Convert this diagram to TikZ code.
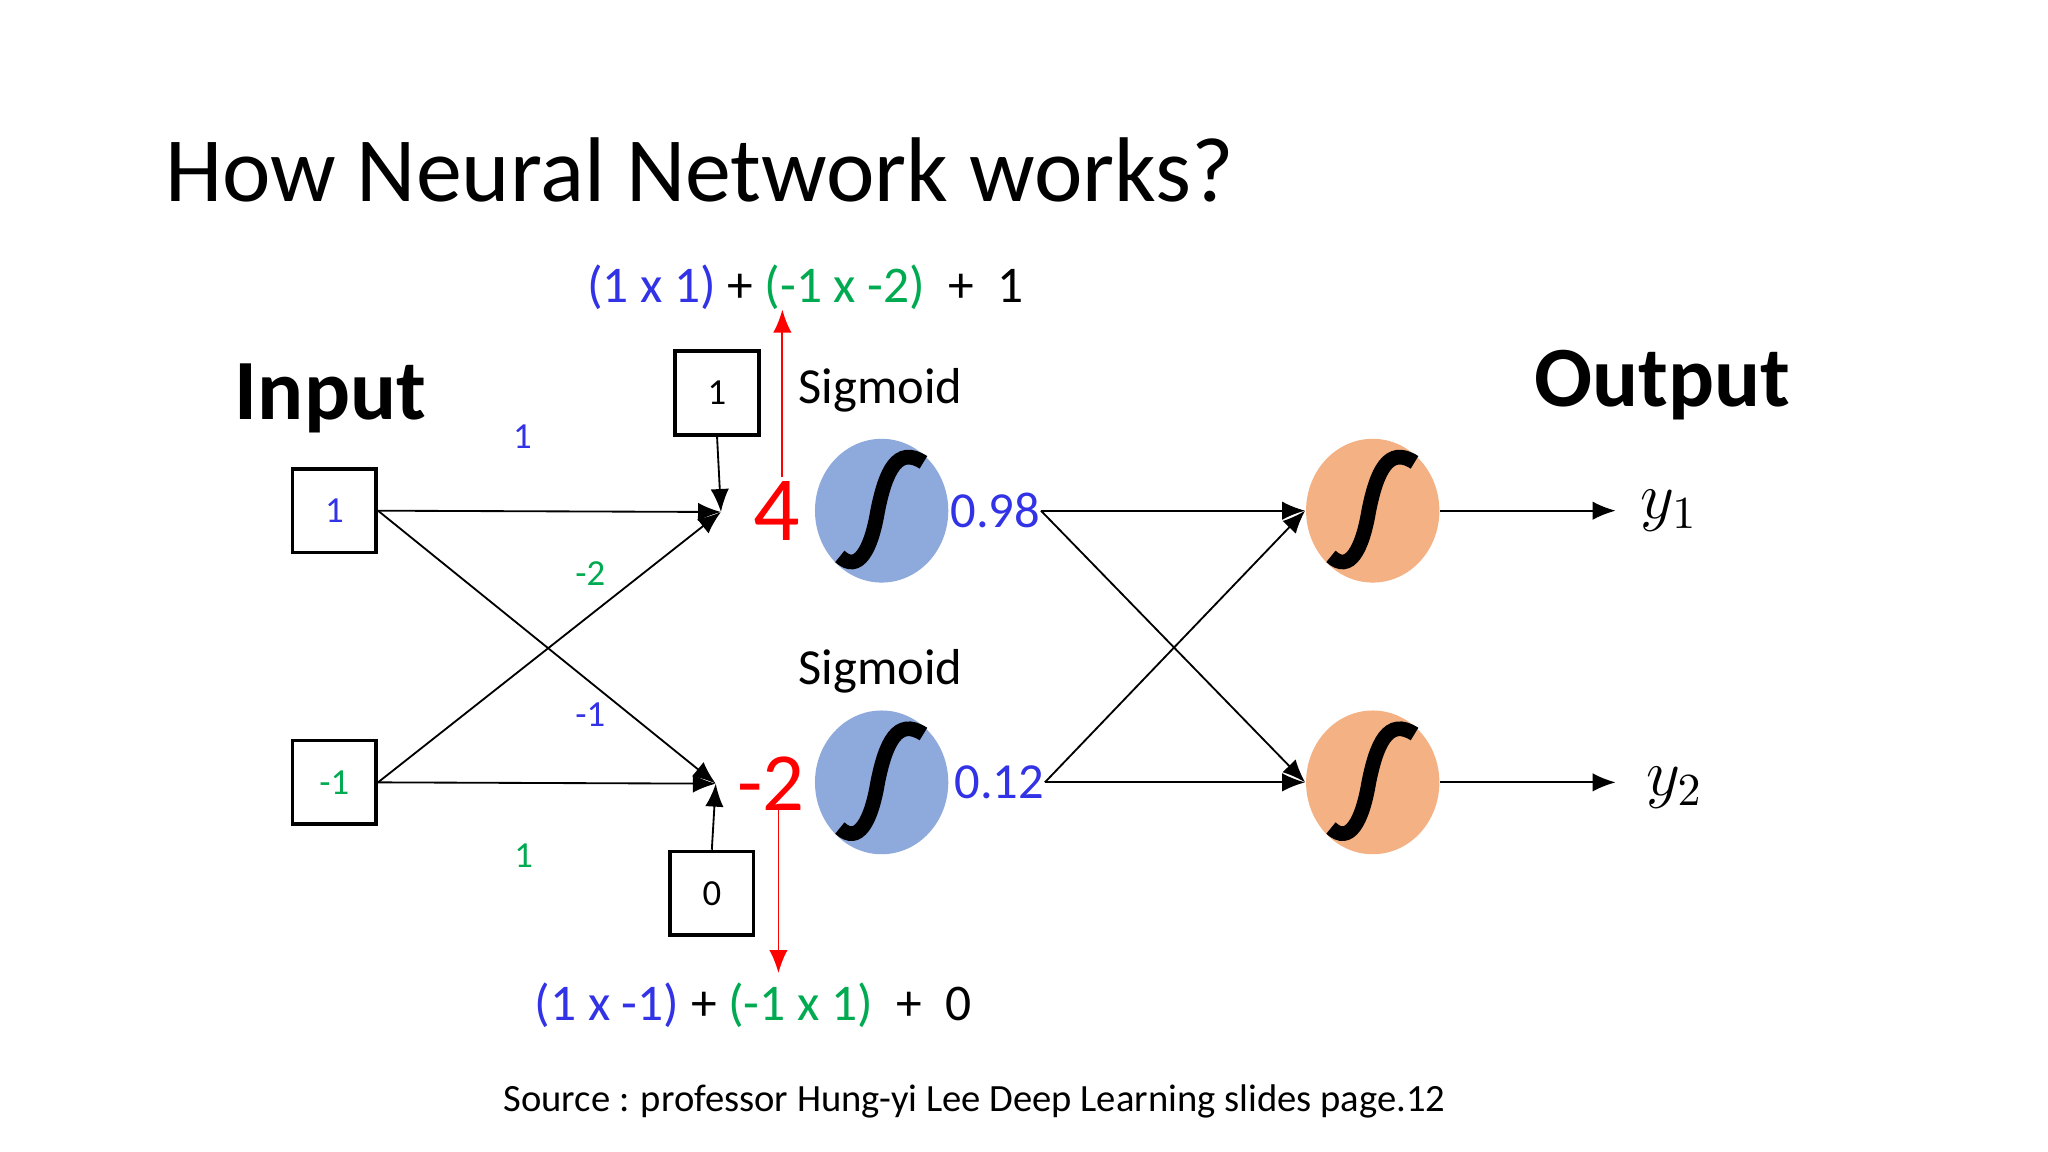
\documentclass[tikz,border=0pt]{standalone}
\usepackage{fontspec}
\setmainfont{Carlito}
\usetikzlibrary{arrows.meta,shapes.geometric}
\definecolor{tblue}{RGB}{50,50,230}
\definecolor{tgreen}{RGB}{0,170,80}
\definecolor{nblue}{RGB}{142,169,219}
\definecolor{norange}{RGB}{244,177,131}
\begin{document}
\begin{tikzpicture}[x=0.01cm,y=-0.01cm,
  box/.style={draw,thick,minimum size=0.64cm,inner sep=0pt,font=\fontsize{8}{9}\selectfont},
  neuron/.style={ellipse,minimum width=1.02cm,minimum height=1.1cm,inner sep=0pt},
  link/.style={-{Latex[length=5pt,width=4pt]},thin},
  wt/.style={font=\fontsize{8}{9}\selectfont},
  eq/.style={font=\fontsize{11.2}{13}\selectfont,anchor=west}]
\useasboundingbox (0,0) rectangle (1568,882);
\fill[white] (0,0) rectangle (1568,882);
\node[anchor=west,font=\fontsize{20}{24}\selectfont] (title) at (114,130) {How Neural Network works?};
\node[font=\fontsize{18.7}{22}\selectfont\bfseries] (in) at (253,305) {Input};
\node[font=\fontsize{18.7}{22}\selectfont\bfseries] (out) at (1273,295) {Output};
% inputs and biases
\node[box,text=tblue] (x1) at (256,391) {1};
\node[box,text=tgreen] (x2) at (256,599) {-1};
\node[box] (b1) at (549,301) {1};
\node[box] (b2) at (545,684) {0};
\coordinate (s1) at (552,392);
\coordinate (s2) at (548,600);
\draw[link] (x1.east) -- (s1);
\draw[link] (x1.east) -- (s2);
\draw[link] (x2.east) -- (s1);
\draw[link] (x2.east) -- (s2);
\draw[link] (b1.south) -- (s1);
\draw[link] (b2.north) -- (s2);
\node[wt,text=tblue] (w11) at (400,334) {1};
\node[wt,text=tgreen] (w21) at (452,439) {-2};
\node[wt,text=tblue] (w12) at (452,547) {-1};
\node[wt,text=tgreen] (w22) at (401,655) {1};
% sums
\node[text=red,font=\fontsize{20}{22}\selectfont] (z1) at (595,391) {4};
\node[text=red,font=\fontsize{18}{20}\selectfont] (z2) at (590,600) {-2};
% neurons
\foreach \n/\x/\y/\c in {h1/675/391/nblue,h2/675/599/nblue,o1/1051/391/norange,o2/1051/599/norange}{
  \node[neuron,fill=\c] (\n) at (\x,\y) {};
  \draw[line width=3.2pt] (\x-32,\y+35) .. controls (\x-18,\y+48) and (\x-8,\y+30) .. (\x-3,\y)
     .. controls (\x+3,\y-30) and (\x+12,\y-50) .. (\x+32,\y-37);
}
\node[font=\fontsize{11}{13}\selectfont] (sg1) at (674,299) {Sigmoid};
\node[font=\fontsize{11}{13}\selectfont] (sg2) at (674,514) {Sigmoid};
\node[text=tblue,font=\fontsize{11}{13}\selectfont,anchor=west,inner sep=0pt] (a1) at (727,391) {0.98};
\node[text=tblue,font=\fontsize{11}{13}\selectfont,anchor=west,inner sep=0pt] (a2) at (730,599) {0.12};
\draw[link] (a1.east) -- (o1.west);
\draw[link] (a1.east) -- (o2.west);
\draw[link] (a2.east) -- (o1.west);
\draw[link] (a2.east) -- (o2.west);
\node[font=\fontsize{14}{16}\selectfont] (y1) at (1278,391) {$y_1$};
\node[font=\fontsize{14}{16}\selectfont] (y2) at (1282,603) {$y_2$};
\coordinate (r1) at (1237,391);
\coordinate (r2) at (1237,599);
\draw[link] (o1.east) -- (r1);
\draw[link] (o2.east) -- (r2);
% equations
\node[eq] (e1) at (437,220) {\textcolor{tblue}{(1 x 1)} + \textcolor{tgreen}{(-1 x -2)}\ \ + \ 1};
\node[eq] (e2) at (397,770) {\textcolor{tblue}{(1 x -1)} + \textcolor{tgreen}{(-1 x 1)}\ \ + \ 0};
\coordinate (t1) at (599,237);
\coordinate (t2) at (596,745);
\draw[link,red] (599,365) -- (t1);
\draw[link,red] (596,620) -- (t2);
\node[font=\fontsize{8.4}{10}\selectfont] (src) at (746,843) {Source : professor Hung-yi Lee Deep Learning slides page.12};
\end{tikzpicture}
\end{document}
